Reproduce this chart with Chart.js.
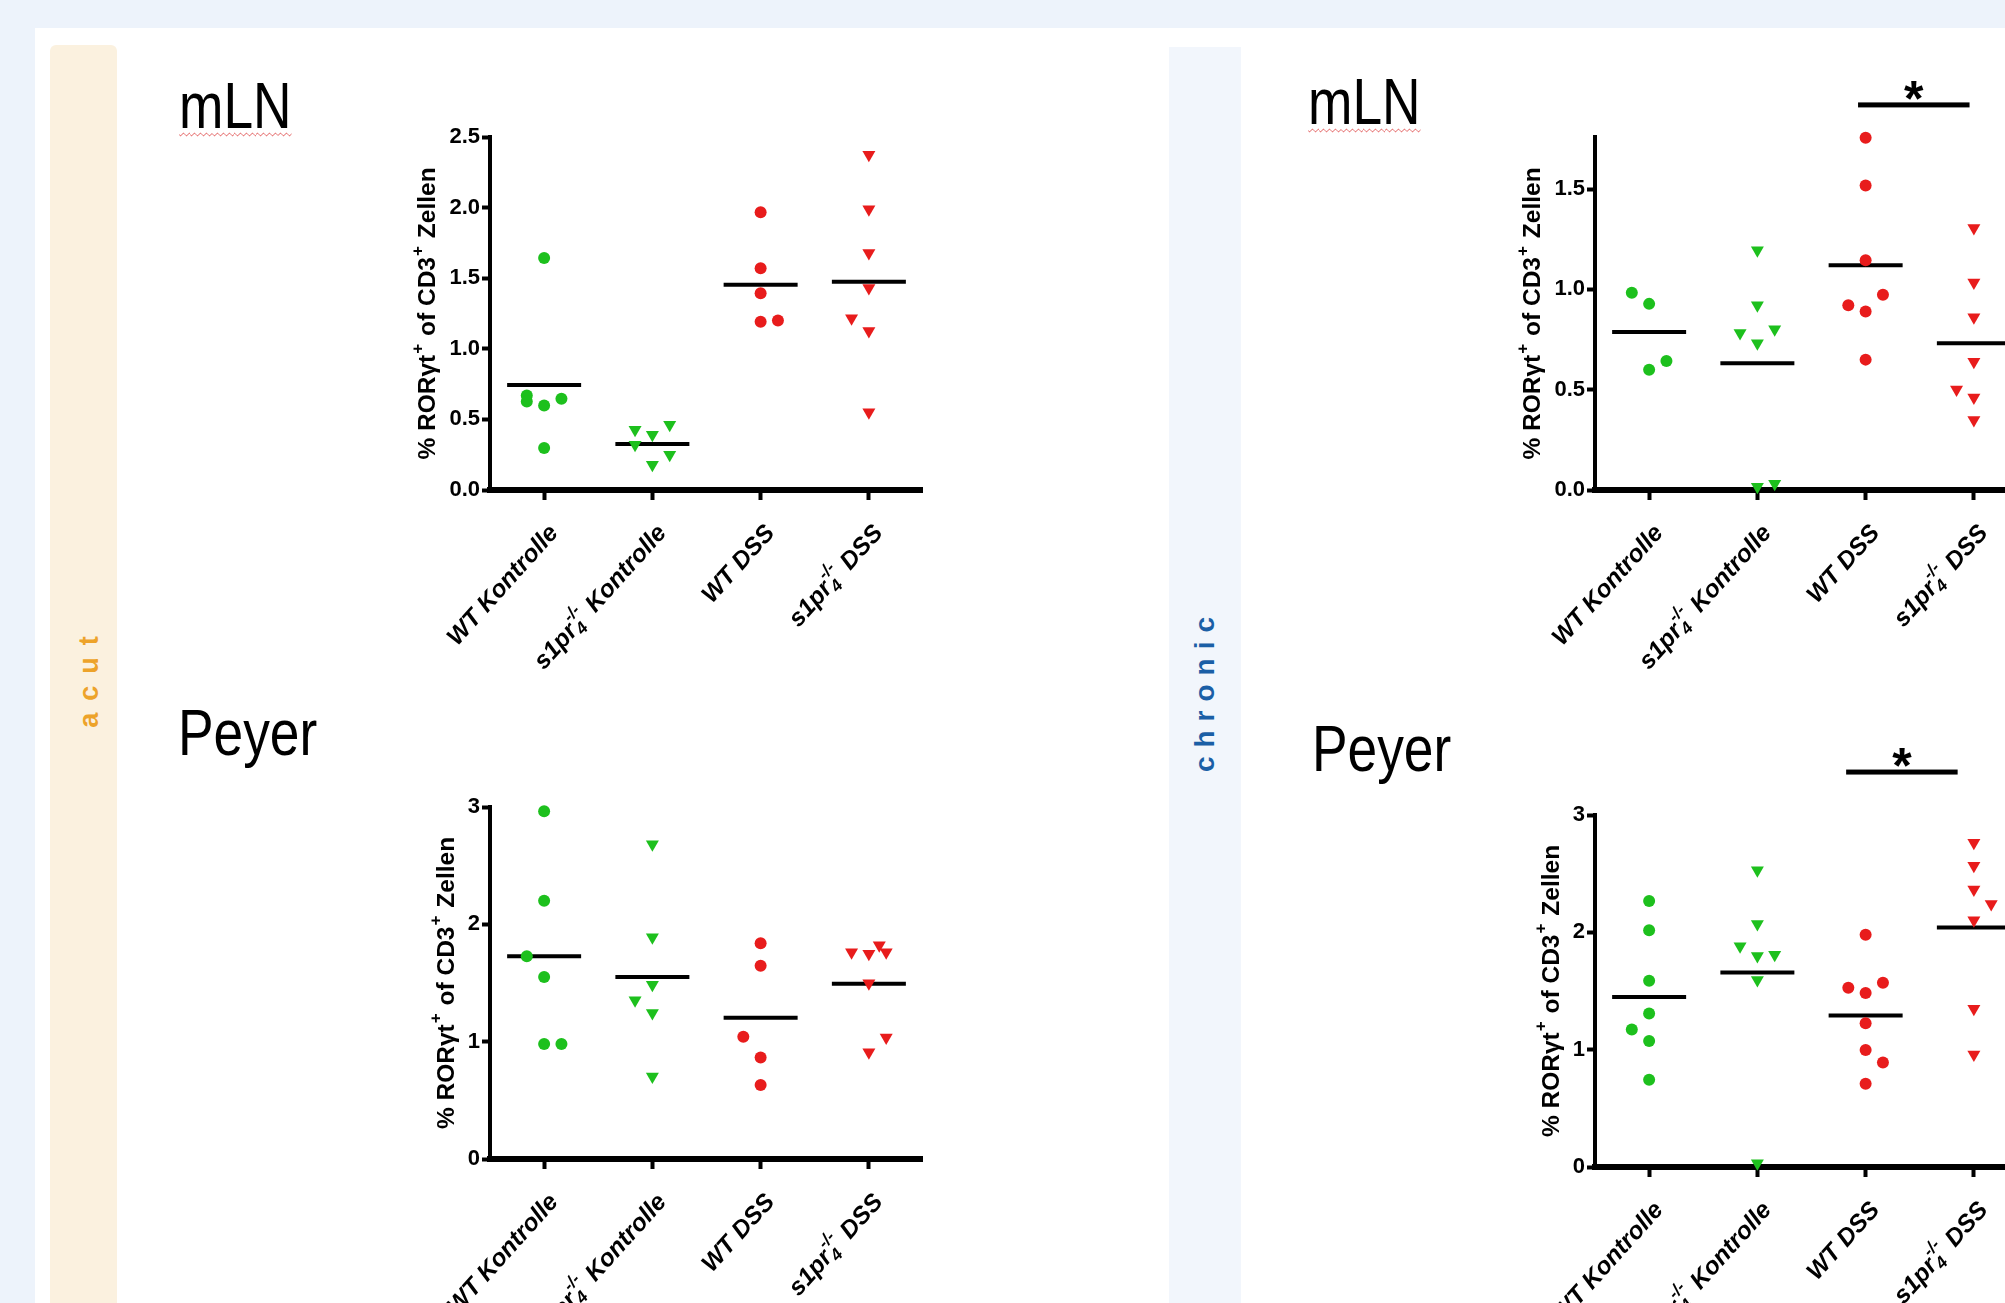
<!DOCTYPE html>
<html lang="de">
<head>
    <meta charset="UTF-8">
    <title>RORγt+ Zellen – acut / chronic</title>
    <script src="https://cdn.jsdelivr.net/npm/chart.js@4.4.1/dist/chart.umd.min.js"></script>
    <style>
        body { margin: 0; width: 2005px; height: 1303px; overflow: hidden; position: relative;
               background: #edf3fb; font-family: "Liberation Sans", Arial, sans-serif; }
        .card { position: absolute; left: 35px; top: 28px; right: 0; bottom: 0; background: #fff; }
        .strip { position: absolute; bottom: 0; }
        .acut { left: 50px; top: 45px; width: 67px; background: #fbf1df; border-radius: 6px 6px 0 0; }
        .chron { left: 1169px; top: 47px; width: 72px; background: #f2f6fc; }
        .side { position: absolute; font-weight: bold; white-space: nowrap;
                transform: translate(-50%, -50%) rotate(-90deg); }
        .title { position: absolute; font-size: 65px; line-height: 65px; color: #000;
                 transform: scaleX(0.82); transform-origin: left top; white-space: nowrap; }
        .spell { text-decoration: underline wavy #e05050; text-decoration-thickness: 1px;
                 text-underline-offset: 4px; }
        canvas { position: absolute; }
    </style>
</head>
<body>
    <div class="card"></div>
    <div class="strip acut"></div>
    <div class="strip chron"></div>

    <div class="side" style="left:89px; top:676px; color:#eda32a; font-size:27px; letter-spacing:12px;">acut</div>
    <div class="side" style="left:1205px; top:690px; color:#1b5fa6; font-size:28px; letter-spacing:9px;">chronic</div>

    <div class="title" style="left:179px; top:73px;"><span class="spell">mLN</span></div>
    <div class="title" style="left:178px; top:700px;">Peyer</div>
    <div class="title" style="left:1308px; top:69px;"><span class="spell">mLN</span></div>
    <div class="title" style="left:1312px; top:716px;">Peyer</div>

    <canvas id="acutMln"></canvas>
    <canvas id="acutPeyer"></canvas>
    <canvas id="chronMln"></canvas>
    <canvas id="chronPeyer"></canvas>

    <script>
        // groups on the x axis (_{} = subscript, ^{} = superscript)
        const groups = ['WT Kontrolle', 's1pr_{4}^{-/-} Kontrolle', 'WT DSS', 's1pr_{4}^{-/-} DSS'];
        const yTitle = '% RORγt^{+} of CD3^{+} Zellen';

        // acut, mLN
        const acutMlnValues = [
            [1.643, 0.670, 0.627, 0.599, 0.647, 0.297],
            [0.462, 0.427, 0.392, 0.321, 0.250, 0.179],
            [1.967, 1.570, 1.394, 1.192, 1.201],
            [2.375, 1.988, 1.678, 1.430, 1.216, 1.126, 0.551]
        ];
        const acutMlnSlots = [[0, -1, -1, 0, 1, 0], [1, -1, 0, -1, 1, 0], [0, 0, 0, 0, 1], [0, 0, 0, 0, -1, 0, 0]];
        const acutMlnMeans = [0.744, 0.326, 1.454, 1.475];
        const acutMlnTicks = ['0.0', '0.5', '1.0', '1.5', '2.0', '2.5'];
        const acutMlnRange = [0, 2.5];

        // acut, Peyer
        const acutPeyerValues = [
            [2.964, 2.200, 1.727, 1.551, 0.981, 0.981],
            [2.683, 1.890, 1.486, 1.352, 1.244, 0.703],
            [1.839, 1.648, 1.042, 0.866, 0.631],
            [1.763, 1.749, 1.821, 1.763, 1.497, 1.035, 0.909]
        ];
        const acutPeyerSlots = [[0, 0, -1, 0, 0, 1], [0, 0, 0, -1, 0, 0], [0, 0, -1, 0, 0], [-1, 0, 0.6, 1, 0, 1, 0]];
        const acutPeyerMeans = [1.727, 1.551, 1.204, 1.493];
        const acutPeyerTicks = ['0', '1', '2', '3'];
        const acutPeyerRange = [0, 3];

        // chronic, mLN
        const chronMlnValues = [
            [0.984, 0.928, 0.599, 0.643],
            [1.195, 0.921, 0.783, 0.801, 0.732, 0.016, 0.031],
            [1.756, 1.518, 1.146, 0.973, 0.921, 0.890, 0.650],
            [1.306, 1.035, 0.861, 0.639, 0.501, 0.461, 0.349]
        ];
        const chronMlnSlots = [[-1, 0, 0, 1], [0, 0, -1, 1, 0, 0, 1], [0, 0, 0, 1, -1, 0, 0], [0, 0, 0, 0, -1, 0, 0]];
        const chronMlnMeans = [0.788, 0.632, 1.120, 0.732];
        const chronMlnTicks = ['0.0', '0.5', '1.0', '1.5'];
        const chronMlnRange = [0, 1.76];
        const chronMlnSig = [1.93, 2.96, 1.92];   // bar from, to (group units), level

        // chronic, Peyer
        const chronPeyerValues = [
            [2.267, 2.018, 1.587, 1.308, 1.171, 1.073, 0.743],
            [2.529, 2.070, 1.881, 1.799, 1.809, 1.594, 0.033],
            [1.979, 1.528, 1.482, 1.570, 1.226, 0.998, 0.890, 0.710],
            [2.764, 2.568, 2.365, 2.241, 2.103, 1.348, 0.958]
        ];
        const chronPeyerSlots = [[0, 0, 0, 0, -1, 0, 0], [0, 0, -1, 0, 1, 0, 0], [0, -1, 0, 1, 0, 0, 1, 0], [0, 0, 0, 1, 0, 0, 0]];
        const chronPeyerMeans = [1.449, 1.658, 1.292, 2.041];
        const chronPeyerTicks = ['0', '1', '2', '3'];
        const chronPeyerRange = [0, 3];
        const chronPeyerSig = [1.82, 2.85, 3.366];

        const GREEN = '#1dc01d';
        const RED = '#e81c1c';
        const JITTER = 0.16;
        const YAXIS_W = 110, XAXIS_H = 200, PAD_TOP = 90;
        const FAMILY = '"Liberation Sans", Arial, sans-serif';
        const TICK_SIZE = 22;
        const SMALL = 0.7;   // size of sub/superscripts

        function fontStr(f, k) {
            return (f.style || 'normal') + ' bold ' + (f.size * (k || 1)) + 'px ' + FAMILY;
        }

        function richParts(s) {
            const parts = [];
            s.split(/(_\{[^}]*\}|\^\{[^}]*\})/).forEach(tok => {
                if (!tok) return;
                if (tok.startsWith('_{')) {
                    parts.push({ sub: tok.slice(2, -1) });
                } else if (tok.startsWith('^{')) {
                    const last = parts[parts.length - 1];
                    if (last && last.sub !== undefined && last.sup === undefined) last.sup = tok.slice(2, -1);
                    else parts.push({ sup: tok.slice(2, -1) });
                } else {
                    parts.push({ text: tok });
                }
            });
            return parts;
        }

        function richWidth(ctx, parts, f) {
            let w = 0;
            parts.forEach(p => {
                if (p.text !== undefined) {
                    ctx.font = fontStr(f);
                    w += ctx.measureText(p.text).width;
                } else {
                    ctx.font = fontStr(f, SMALL);
                    w += Math.max(p.sub ? ctx.measureText(p.sub).width : 0, p.sup ? ctx.measureText(p.sup).width + 2 : 0);
                }
            });
            return w;
        }

        function drawRich(ctx, parts, x, y, f) {
            ctx.textAlign = 'left';
            ctx.textBaseline = 'middle';
            ctx.fillStyle = '#000';
            parts.forEach(p => {
                if (p.text !== undefined) {
                    ctx.font = fontStr(f);
                    ctx.fillText(p.text, x, y);
                    x += ctx.measureText(p.text).width;
                } else {
                    ctx.font = fontStr(f, SMALL);
                    let w = 0;
                    if (p.sub) { ctx.fillText(p.sub, x, y + f.size * 0.3); w = ctx.measureText(p.sub).width; }
                    if (p.sup) { ctx.fillText(p.sup, x + 1, y - f.size * 0.42); w = Math.max(w, ctx.measureText(p.sup).width + 2); }
                    x += w;
                }
            });
        }

        // x labels, y title and significance bar
        const annotate = {
            id: 'annotate',
            afterDraw(chart) {
                const ctx = chart.ctx, area = chart.chartArea;
                const xs = chart.scales.x, ys = chart.scales.y;
                const opts = chart.options.plugins.annotate;

                const lf = { size: 24.5, style: 'italic' };
                groups.forEach((lab, i) => {
                    const parts = richParts(lab);
                    const w = richWidth(ctx, parts, lf);
                    ctx.save();
                    ctx.translate(xs.getPixelForValue(i) + 10, area.bottom + 39);
                    ctx.rotate(-48 * Math.PI / 180);
                    drawRich(ctx, parts, -w, 0, lf);
                    ctx.restore();
                });

                ctx.font = fontStr({ size: TICK_SIZE });
                const labW = Math.max(...ys.ticks.map(t => ctx.measureText(t.label).width));
                const tf = { size: 24.5 };
                const tparts = richParts(yTitle);
                const tw = richWidth(ctx, tparts, tf);
                ctx.save();
                ctx.translate(area.left - 11 - labW - 20, (area.top + area.bottom) / 2);
                ctx.rotate(-Math.PI / 2);
                drawRich(ctx, tparts, -tw / 2, 0, tf);
                ctx.restore();

                if (opts.sig) {
                    const x0 = xs.getPixelForValue(opts.sig[0]);
                    const x1 = xs.getPixelForValue(opts.sig[1]);
                    const y = ys.getPixelForValue(opts.sig[2]);
                    ctx.save();
                    ctx.fillStyle = '#000';
                    ctx.fillRect(x0, y - 2.5, x1 - x0, 5);
                    ctx.font = 'bold 50px ' + FAMILY;
                    ctx.textAlign = 'center';
                    ctx.textBaseline = 'alphabetic';
                    ctx.fillText('*', (x0 + x1) / 2, y + 11);
                    ctx.restore();
                }
            }
        };

        function makeChart(id, box, values, slots, means, ticks, range, sig) {
            const canvas = document.getElementById(id);
            canvas.width = YAXIS_W + box.w;
            canvas.height = PAD_TOP + box.h + XAXIS_H;
            canvas.style.left = (box.x - YAXIS_W) + 'px';
            canvas.style.top = (box.y - PAD_TOP) + 'px';

            const datasets = values.map((vals, g) => ({
                data: vals.map((v, i) => ({ x: g + slots[g][i] * JITTER, y: v })),
                pointStyle: g % 2 ? 'triangle' : 'circle',
                pointRotation: g % 2 ? 180 : 0,
                pointRadius: g % 2 ? 7.5 : 6,
                pointBackgroundColor: g < 2 ? GREEN : RED,
                pointBorderWidth: 0,
                showLine: false,
                clip: false
            }));
            datasets.push({
                data: means.map((m, g) => ({ x: g, y: m })),
                pointStyle: 'line',
                pointRadius: 37,
                pointBorderColor: '#000',
                pointBorderWidth: 4,
                showLine: false,
                clip: false
            });

            return new Chart(canvas.getContext('2d'), {
                type: 'scatter',
                data: { datasets: datasets },
                plugins: [annotate],
                options: {
                    responsive: false,
                    animation: false,
                    events: [],
                    layout: { autoPadding: false, padding: { top: PAD_TOP, left: 0, right: 0, bottom: 0 } },
                    plugins: {
                        legend: { display: false },
                        tooltip: { enabled: false },
                        annotate: { sig: sig }
                    },
                    scales: {
                        x: {
                            type: 'linear', min: -0.5, max: 3.5, z: 1,
                            afterBuildTicks: s => { s.ticks = groups.map((_, i) => ({ value: i })); },
                            afterFit: s => { s.height = XAXIS_H; s.paddingLeft = 0; s.paddingRight = 0; },
                            ticks: { display: false },
                            grid: { drawOnChartArea: false, drawTicks: true, tickLength: 10, tickWidth: 4, tickColor: '#000' },
                            border: { display: true, color: '#000', width: 6 }
                        },
                        y: {
                            type: 'linear', min: range[0], max: range[1], z: 1,
                            afterBuildTicks: s => { s.ticks = ticks.map(t => ({ value: parseFloat(t) })); },
                            afterFit: s => { s.width = YAXIS_W; s.paddingTop = 0; s.paddingBottom = 0; },
                            ticks: {
                                color: '#000', padding: 2,
                                font: { family: FAMILY, weight: 'bold', size: TICK_SIZE },
                                callback: (v, i) => ticks[i]
                            },
                            grid: { drawOnChartArea: false, drawTicks: true, tickLength: 8, tickWidth: 4, tickColor: '#000' },
                            border: { display: true, color: '#000', width: 4 }
                        }
                    }
                }
            });
        }

        makeChart('acutMln', { x: 490, y: 137, w: 433, h: 353 },
            acutMlnValues, acutMlnSlots, acutMlnMeans, acutMlnTicks, acutMlnRange, null);
        makeChart('acutPeyer', { x: 490, y: 807, w: 433, h: 352 },
            acutPeyerValues, acutPeyerSlots, acutPeyerMeans, acutPeyerTicks, acutPeyerRange, null);
        makeChart('chronMln', { x: 1595, y: 137, w: 433, h: 353 },
            chronMlnValues, chronMlnSlots, chronMlnMeans, chronMlnTicks, chronMlnRange, chronMlnSig);
        makeChart('chronPeyer', { x: 1595, y: 815, w: 433, h: 352 },
            chronPeyerValues, chronPeyerSlots, chronPeyerMeans, chronPeyerTicks, chronPeyerRange, chronPeyerSig);
    </script>
</body>
</html>
